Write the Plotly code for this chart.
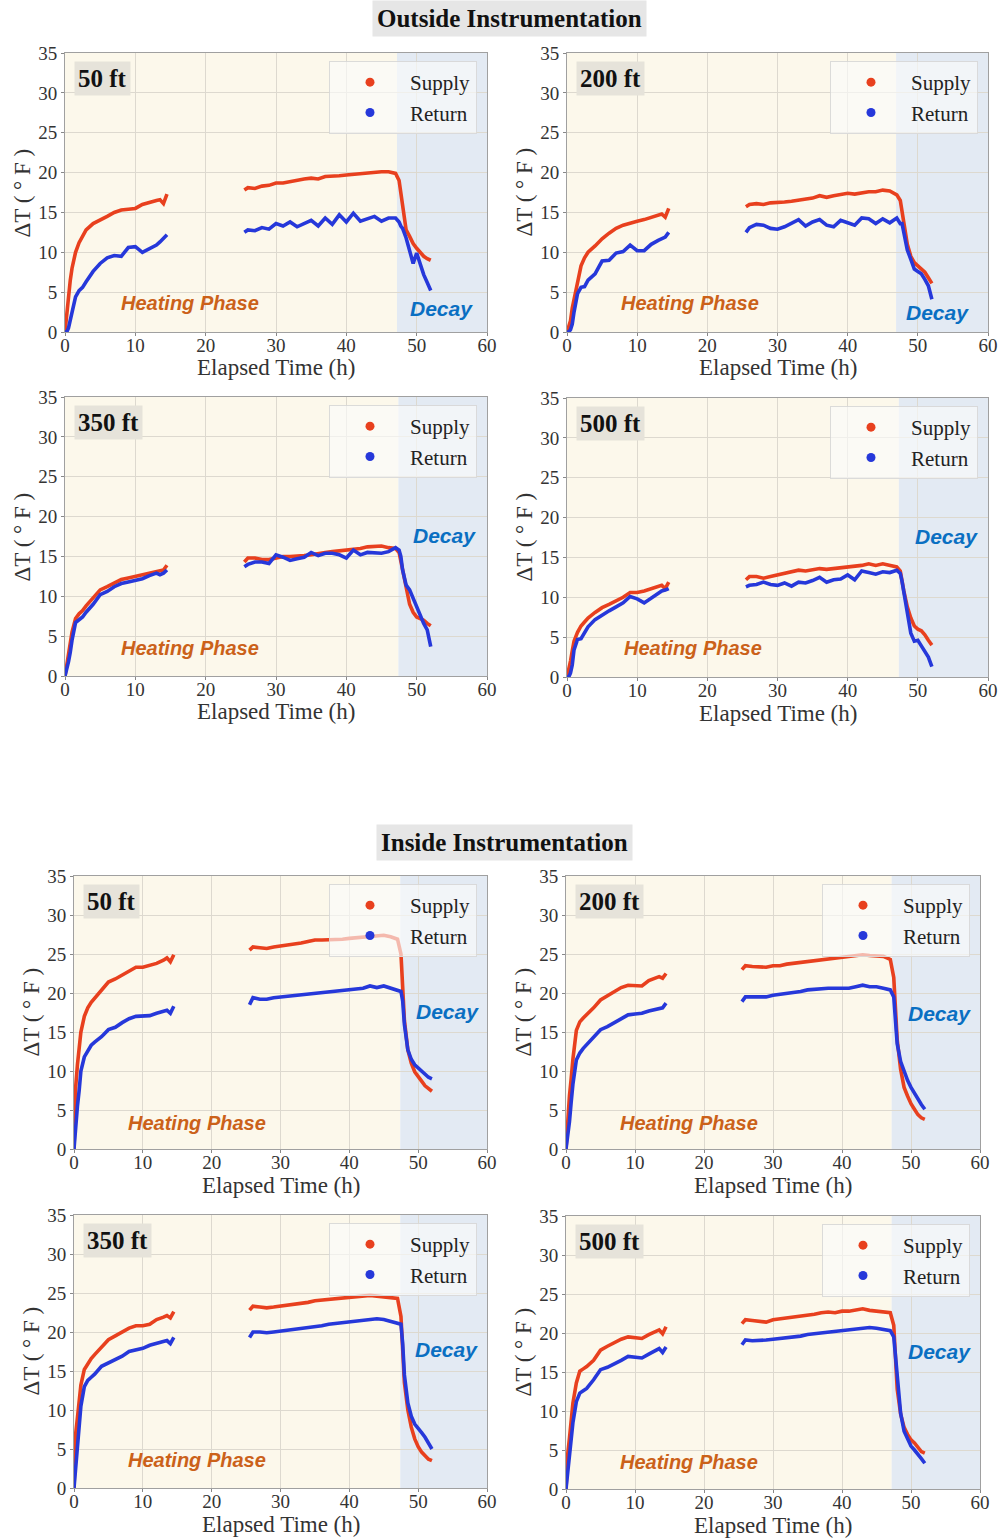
import plotly.graph_objects as go

FIG_W, FIG_H = 1001, 1538

# Sample times (h): heating start-up, hold period, and post-shutdown decay
T_HEAT = [0, 0.25, 0.5, 0.75, 1, 1.5, 2, 2.5, 3, 4, 5, 6, 7, 8, 9, 10, 11, 12, 13, 13.5, 14, 14.5]
T_HOLD = [25.5, 26, 27, 28, 29, 30, 31, 32, 33, 34, 35, 36, 37, 38, 39, 40, 41, 42, 43, 44, 45, 46, 47]
T_DECAY = [47.5, 47.75, 48, 48.5, 49, 49.5, 50, 50.5, 51, 51.5, 52]

# ---- Outside instrumentation, delta-T (deg F) ----
OUT_50_SUPPLY = ([0, 2.5, 5, 6.5, 8, 10, 11.2, 12, 12.8, 13.6, 14, 14.5, 15, 15.3, 15.4, 15.5, 16, 16.3, 16.5, 16.6, 16.1, 17.3]
                 + [17.8, 18.1, 18, 18.3, 18.4, 18.7, 18.7, 18.9, 19, 19.2, 19.3, 19.2, 19.5, 19.5, 19.6, 19.7, 19.8, 19.8, 19.9, 20, 20.1, 20.1, 19.9]
                 + [19, 17.5, 15.5, 12.8, 12, 11.1, 10.5, 10, 9.5, 9.2, 9])
OUT_50_RETURN = ([0, 0, 0.5, 1.5, 2.8, 4.4, 5.2, 5.6, 6.3, 7.6, 8.6, 9.3, 9.6, 9.5, 10.6, 10.7, 10, 10.4, 10.9, 11.3, 11.7, 12.2]
                 + [12.5, 12.8, 12.7, 13.1, 12.9, 13.6, 13.3, 13.8, 13.2, 13.6, 14, 13.3, 14.3, 13.5, 14.7, 13.8, 14.9, 13.9, 14.2, 14.5, 13.9, 14.3, 14.3]
                 + [13.8, 13.3, 13, 11.8, 10, 8.6, 9.9, 8.4, 7.2, 6.2, 5.2])
OUT_200_SUPPLY = ([0, 0.7, 1.4, 3, 4, 6.2, 8.3, 9.3, 10, 10.8, 11.7, 12.4, 13, 13.4, 13.7, 13.9, 14.1, 14.4, 14.7, 14.8, 14.4, 15.5]
                  + [15.7, 16, 16.1, 16, 16.2, 16.2, 16.3, 16.4, 16.5, 16.6, 16.8, 17.1, 16.9, 17.1, 17.3, 17.4, 17.3, 17.5, 17.6, 17.6, 17.8, 17.7, 17.2]
                  + [16.5, 15, 13.5, 11, 9.5, 8.7, 8.3, 7.9, 7.5, 6.8, 6.1])
OUT_200_RETURN = ([0, 0, 0.3, 1, 2.5, 4.8, 5.6, 5.7, 6.5, 7.3, 8.9, 9, 9.9, 10.1, 10.9, 10.2, 10.2, 11, 11.5, 11.7, 11.9, 12.5]
                  + [12.5, 13.1, 13.5, 13.4, 13, 12.9, 13.2, 13.6, 14.1, 13.3, 13.8, 14.1, 13.4, 13.2, 14, 13.7, 13.4, 14.3, 14.2, 13.6, 14.2, 13.7, 14.3]
                  + [13.6, 13.6, 12.5, 10.3, 9.1, 7.9, 7.6, 7.3, 6.6, 5.8, 4.1])
OUT_350_SUPPLY = ([0, 1.5, 3, 4.2, 5.5, 7.2, 7.8, 8.2, 8.8, 9.8, 10.8, 11.2, 11.7, 12.1, 12.3, 12.5, 12.7, 12.9, 13.1, 13.2, 13.3, 13.9]
                  + [14.3, 14.8, 14.8, 14.6, 14.6, 14.8, 15, 15, 15, 15.1, 15.2, 15.4, 15.5, 15.6, 15.7, 15.8, 15.8, 16, 16.2, 16.2, 16.3, 16.1, 16]
                  + [15.5, 14.5, 13.5, 11, 9, 8, 7.4, 7.2, 7, 6.6, 6.3])
OUT_350_RETURN = ([0, 0.8, 1.8, 3, 4.5, 6.7, 7, 7.4, 8, 9, 10.2, 10.6, 11.2, 11.6, 11.8, 12, 12.2, 12.6, 12.9, 12.7, 12.9, 13.3]
                  + [13.7, 14, 14.3, 14.3, 14.1, 15.2, 14.9, 14.5, 14.7, 14.9, 15.5, 15.1, 15.4, 15.4, 15.2, 14.8, 15.8, 15.2, 15.5, 15.5, 15.4, 15.6, 16.1]
                  + [15.8, 15, 13.3, 11.4, 10.8, 9.7, 8.6, 7.4, 6.6, 5.8, 3.7])
OUT_500_SUPPLY = ([0, 0.8, 2, 3.3, 4.5, 5.6, 6.4, 6.9, 7.4, 8.1, 8.7, 9.1, 9.5, 10, 10.6, 10.6, 10.8, 11.1, 11.4, 11.5, 11.1, 11.9]
                  + [12.2, 12.6, 12.6, 12.4, 12.6, 12.8, 13, 13.1, 13.4, 13.3, 13.5, 13.6, 13.5, 13.6, 13.7, 13.8, 13.8, 14, 14.2, 14, 14.2, 14, 13.8]
                  + [13.3, 12, 10.8, 8.8, 7.4, 6.4, 6, 5.8, 5.3, 4.6, 4])
OUT_500_RETURN = ([0, 0, 0.5, 1.5, 3.4, 4.7, 4.8, 5.5, 6.3, 7.2, 7.8, 8.3, 8.8, 9.3, 10.1, 9.8, 9.3, 9.9, 10.6, 10.8, 10.9, 11.1]
                  + [11.3, 11.5, 11.6, 11.9, 11.6, 11.5, 11.8, 11.4, 11.9, 11.8, 12.1, 12.5, 11.9, 12.2, 12.3, 12.8, 12.2, 13.3, 13.1, 12.9, 13.2, 13.1, 13.4]
                  + [13, 12, 10.6, 7.6, 5.5, 4.5, 4.6, 3.9, 3.2, 2.5, 1.3])

# ---- Inside instrumentation, delta-T (deg F) ----
IN_50_SUPPLY = ([0, 8, 10.8, 13, 15, 17, 18.1, 18.8, 19.3, 20.3, 21.4, 21.8, 22.3, 22.9, 23.3, 23.3, 23.5, 23.8, 24.2, 24.5, 24, 24.9]
                + [25.5, 25.9, 25.8, 25.7, 25.9, 26, 26.1, 26.2, 26.4, 26.6, 26.8, 26.8, 26.8, 26.8, 26.9, 27, 27.1, 27.1, 27.2, 27.3, 27.4, 27.2, 26.9]
                + [25, 20, 16.5, 12.7, 11, 9.9, 9.2, 8.7, 8.1, 7.7, 7.4])
IN_50_RETURN = ([0, 3.5, 5.5, 7.5, 10, 11.8, 12.6, 13.3, 13.7, 14.4, 15.3, 15.6, 16.2, 16.7, 17, 17, 17.1, 17.4, 17.6, 17.8, 17.4, 18.3]
                + [18.5, 19.4, 19.2, 19.2, 19.4, 19.5, 19.6, 19.7, 19.8, 19.9, 20, 20, 20.1, 20.3, 20.3, 20.4, 20.5, 20.6, 20.9, 20.7, 20.9, 20.6, 20.4]
                + [20.2, 19, 16, 12.7, 11.5, 10.8, 10.4, 10, 9.5, 9.2, 9])
IN_200_SUPPLY = ([0, 4.5, 6.8, 9, 11.5, 15.2, 16.3, 16.8, 17.2, 18.1, 19.1, 19.6, 20.2, 20.7, 21, 21, 20.9, 21.6, 21.9, 22.1, 21.9, 22.5]
                 + [23, 23.5, 23.4, 23.4, 23.3, 23.5, 23.5, 23.7, 23.8, 24, 24.1, 24.2, 24.3, 24.4, 24.5, 24.6, 24.7, 24.8, 24.9, 24.8, 24.8, 24.7, 24.3]
                 + [22, 18, 14, 10.2, 7.9, 6.8, 5.8, 5.1, 4.4, 4, 3.8])
IN_200_RETURN = ([0, 1.5, 3.5, 6, 8.3, 11.4, 12.3, 12.9, 13.4, 14.4, 15.3, 15.7, 16.2, 16.7, 17.2, 17.3, 17.4, 17.7, 17.9, 18.1, 18.1, 18.7]
                 + [18.9, 19.5, 19.5, 19.5, 19.5, 19.7, 19.8, 19.9, 20, 20.2, 20.4, 20.5, 20.6, 20.6, 20.6, 20.6, 20.6, 20.8, 21, 20.8, 20.8, 20.6, 20.4]
                 + [19.5, 17, 13.5, 11.2, 9.9, 8.8, 7.9, 7.1, 6.5, 5.7, 5.1])
IN_350_SUPPLY = ([0, 7, 9, 11, 13.2, 15.2, 16, 16.6, 17.1, 18, 19, 19.5, 20, 20.5, 20.8, 20.8, 21, 21.6, 21.9, 22.1, 21.8, 22.6]
                 + [22.8, 23.3, 23.2, 23.1, 23.2, 23.3, 23.5, 23.5, 23.6, 23.8, 24, 24.1, 24.2, 24.3, 24.4, 24.4, 24.5, 24.6, 24.7, 24.6, 24.5, 24.4, 24.3]
                 + [22, 17, 13.5, 10, 7.8, 6.3, 5.3, 4.6, 4.1, 3.7, 3.5])
IN_350_RETURN = ([0, 2.5, 5, 8, 10.5, 13, 13.8, 14.2, 14.6, 15.6, 16, 16.5, 16.9, 17.5, 17.7, 17.9, 18.3, 18.5, 18.8, 18.9, 18.5, 19.3]
                 + [19.3, 20, 20, 19.9, 20, 20.1, 20.2, 20.3, 20.4, 20.5, 20.6, 20.8, 21, 21.1, 21.2, 21.3, 21.4, 21.6, 21.7, 21.7, 21.6, 21.4, 21.2]
                 + [21, 18.5, 14.5, 10.9, 9.2, 8.2, 7.7, 7.1, 6.5, 5.8, 5])
IN_500_SUPPLY = ([0, 4.5, 6.5, 9, 11, 13.6, 15.1, 15.4, 15.7, 16.5, 17.8, 18.3, 18.8, 19.2, 19.5, 19.4, 19.3, 19.8, 20.2, 20.4, 19.9, 20.8]
                 + [21.2, 21.7, 21.6, 21.5, 21.4, 21.7, 21.8, 21.9, 22, 22.2, 22.3, 22.4, 22.6, 22.7, 22.6, 22.8, 22.8, 22.9, 23.1, 22.9, 22.8, 22.7, 22.6]
                 + [21, 17, 12.8, 9.6, 7.9, 7, 6.3, 5.9, 5.3, 4.8, 4.6])
IN_500_RETURN = ([0, 2, 4, 6.3, 8.5, 11.2, 12.3, 12.6, 12.9, 14, 15.3, 15.6, 16, 16.5, 17, 16.9, 16.8, 17.3, 17.7, 18, 17.5, 18.2]
                 + [18.5, 19.1, 19, 19, 19.1, 19.2, 19.3, 19.3, 19.5, 19.6, 19.8, 19.9, 20, 20.1, 20.2, 20.3, 20.4, 20.5, 20.7, 20.7, 20.6, 20.4, 20.3]
                 + [19.5, 17, 13.5, 9.7, 7.4, 6.3, 5.5, 5, 4.5, 3.9, 3.3])

DEPTH_LABELS = ["50 ft", "200 ft", "350 ft", "500 ft", "50 ft", "200 ft", "350 ft", "500 ft"]
DECAY_START = [47.2, 46.9, 47.4, 47.3, 47.4, 47.2, 47.4, 47.2]
SECTION_TITLES = ["Outside Instrumentation", "Inside Instrumentation"]
X_TITLE = "Elapsed Time (h)"
Y_TITLE = "ΔT ( ° F )"

SERIES = [
    (OUT_50_SUPPLY, OUT_50_RETURN), (OUT_200_SUPPLY, OUT_200_RETURN),
    (OUT_350_SUPPLY, OUT_350_RETURN), (OUT_500_SUPPLY, OUT_500_RETURN),
    (IN_50_SUPPLY, IN_50_RETURN), (IN_200_SUPPLY, IN_200_RETURN),
    (IN_350_SUPPLY, IN_350_RETURN), (IN_500_SUPPLY, IN_500_RETURN),
]

# plot-area boxes in pixels: left, right, top, bottom
BOXES = [
    (65, 487, 53, 332), (567, 988, 53, 332),
    (65, 487, 397, 676), (567, 988, 398, 677),
    (74, 487, 876, 1149), (566, 980, 876, 1149),
    (74, 487, 1215, 1488), (566, 980, 1216, 1489),
]
# (x, y) in data units for the phase labels
HEAT_POS = [(17.8, 3.6), (17.5, 3.6), (17.8, 3.5), (17.9, 3.6),
            (17.9, 3.3), (17.8, 3.3), (17.9, 3.6), (17.8, 3.4)]
DECAY_POS = [(53.5, 2.9), (52.8, 2.4), (54.0, 17.6), (54.1, 17.6),
             (54.2, 17.6), (54.1, 17.4), (54.1, 17.7), (54.1, 17.6)]

SUPPLY_COLOR = "#E8401E"
RETURN_COLOR = "#2638DA"
HEAT_BG = "#FCF8EB"
DECAY_BG = "#E3EAF3"
GRID = "#DDD9CF"
SERIF = "Liberation Serif"
SANS = "Liberation Sans"


def split_xy(values):
    n = len(T_HEAT)
    x = T_HEAT + [None] + T_HOLD + T_DECAY
    y = values[:n] + [None] + values[n:]
    return x, y


fig = go.Figure()
layout = dict(
    width=FIG_W, height=FIG_H,
    margin=dict(l=0, r=0, t=0, b=0, autoexpand=False),
    paper_bgcolor="white", plot_bgcolor="white",
    font=dict(family=SERIF, color="#333"),
    shapes=[], annotations=[],
)

for i, ((sup, ret), (l, r, t, b)) in enumerate(zip(SERIES, BOXES), start=1):
    sfx = "" if i == 1 else str(i)
    xa, ya = f"x{sfx}", f"y{sfx}"
    leg = f"legend{sfx}"

    for vals, name, color in ((sup, "Supply", SUPPLY_COLOR), (ret, "Return", RETURN_COLOR)):
        x, y = split_xy(vals)
        fig.add_trace(go.Scatter(
            x=x, y=y, xaxis=xa, yaxis=ya, mode="lines",
            line=dict(color=color, width=3.6), connectgaps=False,
            showlegend=False, legendgroup=f"{name}{i}", hoverinfo="skip",
        ))
        # legend key (dot marker)
        fig.add_trace(go.Scatter(
            x=[None], y=[None], xaxis=xa, yaxis=ya, mode="markers",
            marker=dict(color=color, size=9), name=name,
            legend=leg, legendgroup=f"{name}{i}", showlegend=True,
        ))

    axis_common = dict(
        showgrid=True, gridcolor=GRID, gridwidth=1, zeroline=False,
        showline=True, mirror=True, linecolor="#A0A0A0", linewidth=1,
        ticks="outside", ticklen=3, tickcolor="#888", automargin=False,
        tickfont=dict(family=SERIF, size=19, color="#333"),
    )
    layout[f"xaxis{sfx}"] = dict(
        axis_common, domain=[l / FIG_W, r / FIG_W], range=[0, 60], dtick=10,
        anchor=ya, ticklabelstandoff=-7,
    )
    layout[f"yaxis{sfx}"] = dict(
        axis_common, domain=[1 - b / FIG_H, 1 - t / FIG_H], range=[0, 35], dtick=5,
        anchor=xa,
    )

    ds = DECAY_START[i - 1]
    layout["shapes"] += [
        dict(type="rect", xref=xa, yref=f"{ya} domain", x0=0, x1=ds, y0=0, y1=1,
             fillcolor=HEAT_BG, line=dict(width=0), layer="below"),
        dict(type="rect", xref=xa, yref=f"{ya} domain", x0=ds, x1=60, y0=0, y1=1,
             fillcolor=DECAY_BG, line=dict(width=0), layer="below"),
    ]

    pw, ph = r - l, b - t
    layout["annotations"] += [
        # axis titles
        dict(text=X_TITLE, xref=f"{xa} domain", yref=f"{ya} domain",
             x=0.5, y=-36 / ph, xanchor="center", yanchor="middle", showarrow=False,
             font=dict(family=SERIF, size=23, color="#333")),
        dict(text=Y_TITLE, xref=f"{xa} domain", yref=f"{ya} domain",
             x=-43 / pw, y=0.5, xanchor="center", yanchor="middle", showarrow=False,
             textangle=-90, font=dict(family=SERIF, size=23, color="#333")),
        # depth tag
        dict(text=f"<b>{DEPTH_LABELS[i - 1]}</b>", xref=f"{xa} domain", yref=f"{ya} domain",
             x=9 / pw, y=1 - 8 / ph, xanchor="left", yanchor="top", showarrow=False,
             font=dict(family=SERIF, size=25, color="#111"), bgcolor="#E6E3DA", borderpad=3),
        dict(text="<b><i>Heating Phase</i></b>", xref=xa, yref=ya,
             x=HEAT_POS[i - 1][0], y=HEAT_POS[i - 1][1], showarrow=False,
             xanchor="center", yanchor="middle",
             font=dict(family=SANS, size=20, color="#CB6119")),
        dict(text="<b><i>Decay</i></b>", xref=xa, yref=ya,
             x=DECAY_POS[i - 1][0], y=DECAY_POS[i - 1][1], showarrow=False,
             xanchor="center", yanchor="middle",
             font=dict(family=SANS, size=21, color="#0A6FC2")),
    ]

    layout[leg] = dict(
        x=(r - 10) / FIG_W, xanchor="right", y=1 - (t + 8) / FIG_H, yanchor="top",
        bgcolor="rgba(250,250,250,0.65)", bordercolor="rgba(215,215,215,0.9)", borderwidth=1,
        font=dict(family=SERIF, size=21, color="#222"), itemwidth=70, tracegroupgap=0,
    )

# section headers
layout["annotations"] += [
    dict(text=f"<b>{SECTION_TITLES[0]}</b>", xref="paper", yref="paper",
         x=509 / FIG_W, y=1 - 18 / FIG_H, xanchor="center", yanchor="middle", showarrow=False,
         font=dict(family=SERIF, size=25, color="#111"), bgcolor="#E6E6E6", borderpad=4),
    dict(text=f"<b>{SECTION_TITLES[1]}</b>", xref="paper", yref="paper",
         x=504 / FIG_W, y=1 - 842 / FIG_H, xanchor="center", yanchor="middle", showarrow=False,
         font=dict(family=SERIF, size=25, color="#111"), bgcolor="#E6E6E6", borderpad=4),
]

fig.update_layout(**layout)
fig.write_html("out.html")
